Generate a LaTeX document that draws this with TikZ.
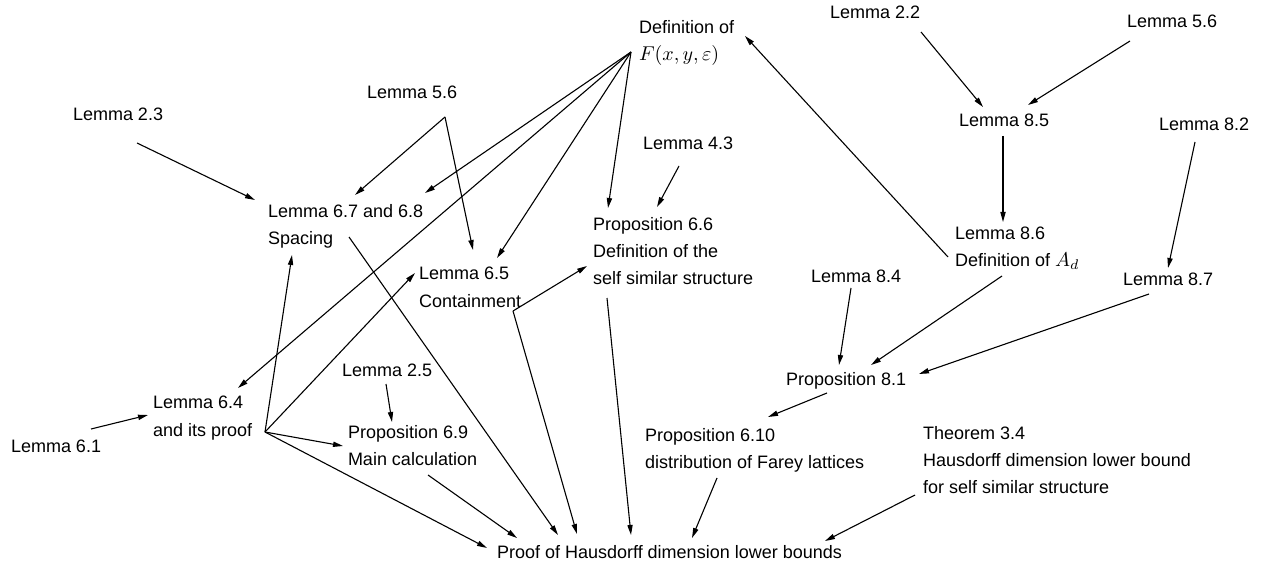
\documentclass[tikz,border=0pt]{standalone}
\usepackage{fontspec}
\setmainfont{Liberation Sans}
\usetikzlibrary{arrows.meta}
\tikzset{
  lbl/.style={anchor=base west, inner sep=0pt, outer sep=0pt, align=left,
    font=\fontsize{9}{13.5}\selectfont},
  arr/.style={line width=0.55pt, -{Triangle[length=5pt,width=2.6pt]}}
}
\newcommand{\mth}[1]{{\fontsize{10}{13.5}\selectfont$#1$}}
\begin{document}
\begin{tikzpicture}[x=0.5pt,y=-0.5pt]
\useasboundingbox (0,0) rectangle (1262,566);
% text nodes (multi-line nodes are placed by the baseline of their last line)
\node[lbl] (defF) at (639,61) {Definition of\\\mth{F(x,y,\varepsilon)}};
\node[lbl] (l22) at (830,19) {Lemma 2.2};
\node[lbl] (l56b) at (1127,28) {Lemma 5.6};
\node[lbl] (l56a) at (367,99) {Lemma 5.6};
\node[lbl] (l23) at (73,121) {Lemma 2.3};
\node[lbl] (l85) at (959,127) {Lemma 8.5};
\node[lbl] (l82) at (1159,131) {Lemma 8.2};
\node[lbl] (l43) at (643,150) {Lemma 4.3};
\node[lbl] (l678) at (268,245) {Lemma 6.7 and 6.8\\Spacing};
\node[lbl] (p66) at (593,285) {Proposition 6.6\\Definition of the\\self similar structure};
\node[lbl] (l86) at (955,267) {Lemma 8.6\\Definition of \mth{A_d}};
\node[lbl] (l65) at (419,307) {Lemma 6.5\\Containment};
\node[lbl] (l84) at (811,283) {Lemma 8.4};
\node[lbl] (l87) at (1123,286) {Lemma 8.7};
\node[lbl] (l25) at (342,376) {Lemma 2.5};
\node[lbl] (p81) at (786,386) {Proposition 8.1};
\node[lbl] (l64) at (153,436) {Lemma 6.4\\and its proof};
\node[lbl] (p69) at (348,465) {Proposition 6.9\\Main calculation};
\node[lbl] (p610) at (645,468) {Proposition 6.10\\distribution of Farey lattices};
\node[lbl] (t34) at (923,493) {Theorem 3.4\\Hausdorff dimension lower bound\\for self similar structure};
\node[lbl] (l61) at (11,452) {Lemma 6.1};
\node[lbl] (proof) at (497,558) {Proof of Hausdorff dimension lower bounds};
% connector end points
\coordinate (c23o) at (137,143);   \coordinate (c678a) at (255,200);
\coordinate (c56o) at (445,117);   \coordinate (c678b) at (355,195);
\coordinate (c65a) at (473,250);
\coordinate (cF) at (631,52);      \coordinate (c678c) at (425,193);
\coordinate (c64a) at (238,388);   \coordinate (c65b) at (497,258);
\coordinate (c66a) at (608,208);
\coordinate (c43o) at (679,166);   \coordinate (c66b) at (657,207);
\coordinate (c64o) at (265,432);   \coordinate (c678d) at (292,255);
\coordinate (c65c) at (415,273);   \coordinate (c69a) at (343,446);
\coordinate (cPa) at (487,548);
\coordinate (c61o) at (91,429);    \coordinate (c64b) at (148,415);
\coordinate (c25o) at (386,384);   \coordinate (c69b) at (392,422);
\coordinate (c678o) at (349,237);  \coordinate (cPc) at (558,535);
\coordinate (c69o) at (428,475);   \coordinate (cPb) at (517,538);
\coordinate (c65o) at (513,311);   \coordinate (c66c) at (587,266);
\coordinate (cPd) at (577,534);
\coordinate (c66o) at (607,298);   \coordinate (cPe) at (631,535);
\coordinate (c610o) at (717,478);  \coordinate (cPf) at (692,538);
\coordinate (c34o) at (915,495);   \coordinate (cPg) at (825,541);
\coordinate (c81o) at (827,393);   \coordinate (c610a) at (768,417);
\coordinate (c84o) at (851,288);   \coordinate (c81a) at (839,365);
\coordinate (c86o) at (1002,276);  \coordinate (c81b) at (871,365);
\coordinate (c87o) at (1149,294);  \coordinate (c81c) at (919,374);
\coordinate (c82o) at (1195,142);  \coordinate (c87a) at (1168,268);
\coordinate (c85o) at (1003,136);  \coordinate (c86a) at (1003,222);
\coordinate (c22o) at (921,32);    \coordinate (c85a) at (983,107);
\coordinate (c56bo) at (1130,41);  \coordinate (c85b) at (1028,105);
\coordinate (c86b) at (948,257);   \coordinate (cFa) at (745,36);
% connectors
\draw[arr] (c23o) -- (c678a);
\draw[arr] (c56o) -- (c678b);
\draw[arr] (c56o) -- (c65a);
\draw[arr] (cF) -- (c678c);
\draw[arr] (cF) -- (c64a);
\draw[arr] (cF) -- (c65b);
\draw[arr] (cF) -- (c66a);
\draw[arr] (c43o) -- (c66b);
\draw[arr] (c64o) -- (c678d);
\draw[arr] (c64o) -- (c65c);
\draw[arr] (c64o) -- (c69a);
\draw[arr] (c64o) -- (cPa);
\draw[arr] (c61o) -- (c64b);
\draw[arr] (c25o) -- (c69b);
\draw[arr] (c678o) -- (cPc);
\draw[arr] (c69o) -- (cPb);
\draw[arr] (c65o) -- (c66c);
\draw[arr] (c65o) -- (cPd);
\draw[arr] (c66o) -- (cPe);
\draw[arr] (c610o) -- (cPf);
\draw[arr] (c34o) -- (cPg);
\draw[arr] (c81o) -- (c610a);
\draw[arr] (c84o) -- (c81a);
\draw[arr] (c86o) -- (c81b);
\draw[arr] (c87o) -- (c81c);
\draw[arr] (c82o) -- (c87a);
\draw[arr] (c85o) -- (c86a);
\draw[arr] (c22o) -- (c85a);
\draw[arr] (c56bo) -- (c85b);
\draw[arr] (c86b) -- (cFa);
\end{tikzpicture}
\end{document}
